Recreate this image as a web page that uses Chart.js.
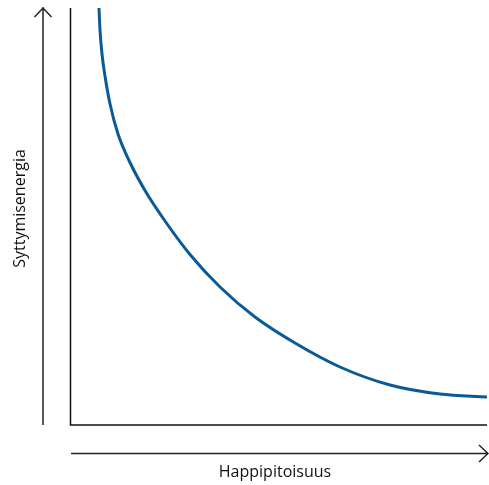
<!DOCTYPE html>
<html lang="fi">
<head>
  <meta charset="UTF-8" />
  <title>Syttymisenergia ja happipitoisuus</title>
  <script src="https://cdn.jsdelivr.net/npm/chart.js"></script>
  <style>
    html, body { margin: 0; padding: 0; background: #fff; }
    #wrap { width: 489px; height: 485px; }
  </style>
</head>
<body>
  <div id="wrap"><canvas id="chart"></canvas></div>

  <script>
    // curve (x = oxygen content, y = ignition energy, both 0..100)
    const happi = [6.73, 6.97, 7.45, 8.17, 9.38, 11.30, 14.18, 17.79, 22.60, 28.61, 35.82, 44.23, 53.85, 64.66, 76.68, 88.70, 100];
    const energia = [100, 94.72, 88.97, 83.69, 76.98, 69.78, 62.95, 56.24, 48.92, 40.89, 33.09, 25.90, 19.66, 13.91, 9.59, 7.43, 6.71];
    const xLabel = "Happipitoisuus";
    const yLabel = "Syttymisenergia";

    const points = happi.map((x, i) => ({ x: x, y: energia[i] }));

    // axes, arrows and labels around the plot area
    const arrows = {
      id: "arrows",
      afterDraw(chart) {
        const { ctx, chartArea: a } = chart;
        ctx.save();
        // plot frame: left and bottom
        ctx.strokeStyle = "#111";
        ctx.lineWidth = 1.5;
        ctx.beginPath();
        ctx.moveTo(a.left - 0.5, a.top);
        ctx.lineTo(a.left - 0.5, a.bottom);
        ctx.lineTo(a.right, a.bottom);
        ctx.stroke();

        // vertical arrow
        const ax = a.left - 28;
        ctx.strokeStyle = "#222";
        ctx.beginPath();
        ctx.moveTo(ax, a.bottom);
        ctx.lineTo(ax, a.top - 1);
        ctx.moveTo(ax - 8.5, a.top + 9);
        ctx.lineTo(ax, a.top);
        ctx.lineTo(ax + 8.5, a.top + 9);
        ctx.stroke();

        // horizontal arrow
        const ay = a.bottom + 28.5;
        ctx.beginPath();
        ctx.moveTo(a.left, ay);
        ctx.lineTo(a.right + 1, ay);
        ctx.moveTo(a.right - 8, ay - 8.5);
        ctx.lineTo(a.right + 1, ay);
        ctx.lineTo(a.right - 8, ay + 8.5);
        ctx.stroke();

        ctx.fillStyle = "#111";
        ctx.font = "16px 'Open Sans'";
        ctx.textAlign = "center";
        ctx.textBaseline = "middle";
        ctx.fillText(xLabel, (a.left + a.right) / 2 - 4, a.bottom + 47);

        ctx.translate(20, (a.top + a.bottom) / 2 - 8);
        ctx.rotate(-Math.PI / 2);
        ctx.fillText(yLabel, 0, 0);
        ctx.restore();
      }
    };

    new Chart(document.getElementById("chart"), {
      type: "scatter",
      data: {
        datasets: [{
          data: points,
          showLine: true,
          borderColor: "#0a5a96",
          borderWidth: 3,
          pointRadius: 0,
          cubicInterpolationMode: "monotone",
          fill: false
        }]
      },
      options: {
        responsive: true,
        maintainAspectRatio: false,
        animation: false,
        layout: { padding: { left: 71, right: 2, top: 8, bottom: 60 } },
        plugins: { legend: { display: false }, tooltip: { enabled: false } },
        scales: {
          x: { type: "linear", min: 0, max: 100, display: false },
          y: { type: "linear", min: 0, max: 100, display: false }
        }
      },
      plugins: [arrows]
    });
  </script>
</body>
</html>
